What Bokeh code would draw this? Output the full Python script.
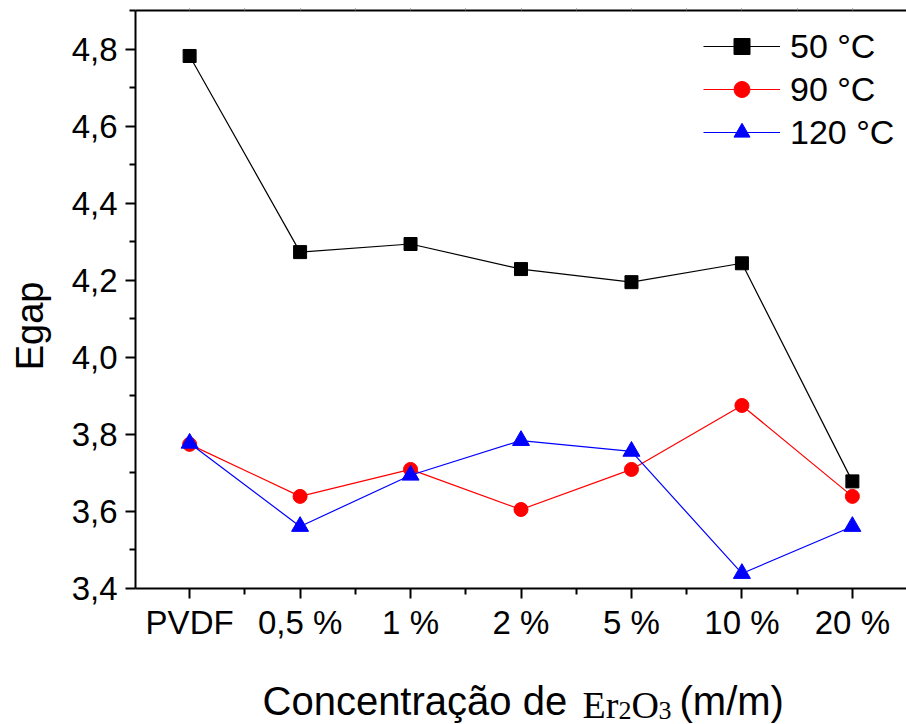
from bokeh.plotting import figure
from bokeh.layouts import column
from bokeh.models import (Range1d, FixedTicker, LinearAxis, CustomJSTickFormatter,
                          Legend, LegendItem)
from bokeh.core.properties import value
from bokeh.embed import file_html
from bokeh.resources import INLINE

categories = ["PVDF", "0,5 %", "1 %", "2 %", "5 %", "10 %", "20 %"]
egap_50 = [4.782, 4.273, 4.294, 4.229, 4.195, 4.244, 3.678]
egap_90 = [3.774, 3.639, 3.709, 3.605, 3.709, 3.875, 3.639]
egap_120 = [3.777, 3.561, 3.694, 3.784, 3.756, 3.439, 3.561]
series_labels = ["50 °C", "90 °C", "120 °C"]
y_ticks = [3.4, 3.6, 3.8, 4.0, 4.2, 4.4, 4.6, 4.8]
y_minor = [3.5, 3.7, 3.9, 4.1, 4.3, 4.5, 4.7, 4.9]
x_title_parts = ["Concentração de", "Er", "2", "O", "3", "(m/m)"]

xs = list(range(len(categories)))
x_minor = [i - 0.5 for i in xs] + [xs[-1] + 0.5]

FONT = "Liberation Sans"
SERIF = "Liberation Serif"

p = figure(width=906, height=644, output_backend="svg", toolbar_location=None,
           x_range=Range1d(-0.49, 6.49), y_range=Range1d(3.4, 4.9),
           min_border_left=135, min_border_right=0, min_border_top=10,
           min_border_bottom=56, x_axis_location="below")
p.grid.visible = False
p.outline_line_color = None
p.background_fill_color = "white"
p.border_fill_color = "white"

# x axis
xa = p.xaxis[0]
xa.ticker = FixedTicker(ticks=xs, minor_ticks=x_minor)
xa.major_label_overrides = {i: c for i, c in enumerate(categories)}
xa.major_label_text_font = FONT
xa.major_label_text_font_size = "33px"
xa.major_label_text_color = "black"
xa.major_label_standoff = 5
xa.axis_line_width = 2
xa.major_tick_line_width = 2
xa.minor_tick_line_width = 2
xa.major_tick_out = 10
xa.major_tick_in = 0
xa.minor_tick_out = 6
xa.minor_tick_in = 0
xa.axis_line_color = "black"
xa.major_tick_line_color = "black"
xa.minor_tick_line_color = "black"

# y axis
ya = p.yaxis[0]
ya.ticker = FixedTicker(ticks=y_ticks, minor_ticks=y_minor)
ya.formatter = CustomJSTickFormatter(code="return tick.toFixed(1).replace('.', ',');")
ya.major_label_text_font = FONT
ya.major_label_text_font_size = "33px"
ya.major_label_text_color = "black"
ya.major_label_standoff = 8
ya.axis_line_width = 2
ya.major_tick_line_width = 2
ya.minor_tick_line_width = 2
ya.major_tick_out = 10
ya.major_tick_in = 0
ya.minor_tick_out = 6
ya.minor_tick_in = 0
ya.axis_line_color = "black"
ya.major_tick_line_color = "black"
ya.minor_tick_line_color = "black"
ya.axis_label = "Egap" + "\u00a0" * 5
ya.axis_label_text_font = FONT
ya.axis_label_text_font_size = "38px"
ya.axis_label_text_font_style = "normal"
ya.axis_label_text_color = "black"
ya.axis_label_standoff = 18

# top axis (frame line)
ta = LinearAxis(ticker=FixedTicker(ticks=xs, minor_ticks=x_minor),
                major_label_text_font_size="0px", axis_line_width=2,
                major_tick_out=2, major_tick_in=0, minor_tick_out=2, minor_tick_in=0,
                major_tick_line_color="#777777", minor_tick_line_color="#777777",
                major_label_standoff=0)
ta.major_label_overrides = {i: "" for i in xs}
p.add_layout(ta, "above")

r50 = p.line(xs, egap_50, line_color="black", line_width=1.2)
m50 = p.scatter(xs, egap_50, marker="square", size=13, fill_color="black", line_color="black")
r90 = p.line(xs, egap_90, line_color="red", line_width=1.2)
m90 = p.scatter(xs, egap_90, marker="circle", size=14, fill_color="red", line_color="red")
r120 = p.line(xs, egap_120, line_color="blue", line_width=1.2)
m120 = p.scatter(xs, egap_120, marker="triangle", size=17, fill_color="blue", line_color="blue")

legend = Legend(items=[LegendItem(label=series_labels[0], renderers=[r50, m50]),
                       LegendItem(label=series_labels[1], renderers=[r90, m90]),
                       LegendItem(label=series_labels[2], renderers=[r120, m120])],
                location=(568, 436), border_line_color=None, background_fill_alpha=0,
                label_text_font=FONT, label_text_font_size="34px",
                label_text_color="black", glyph_width=77, glyph_height=40,
                label_height=40, label_standoff=10, spacing=3, padding=0, margin=0)
p.add_layout(legend, "center")

# x-axis title strip (mixed fonts: Er2O3 in serif with subscripts);
# its frame is aligned with the main plot's frame (135..906), so x is in canvas pixels
t = figure(frame_width=771, frame_height=80, output_backend="svg", toolbar_location=None,
           x_range=Range1d(135, 906), y_range=Range1d(80, 0),
           min_border_left=135, min_border_right=0,
           min_border_top=0, min_border_bottom=0)
t.axis.visible = False
t.grid.visible = False
t.outline_line_color = None
t.border_fill_color = "white"

def put(x, y, s, font, size):
    t.text(x=[x], y=[y], text=[s], text_font=value(font), text_font_size=value(size),
           text_color="black", text_baseline="alphabetic", text_align="left")

put(262, 56, x_title_parts[0], FONT, "40px")
put(582, 60, x_title_parts[1], SERIF, "38px")
put(618, 66, x_title_parts[2], SERIF, "26px")
put(631, 60, x_title_parts[3], SERIF, "38px")
put(658, 66, x_title_parts[4], SERIF, "26px")
put(679, 56, x_title_parts[5], FONT, "40px")

layout = column(p, t, spacing=0)
open("out.html", "w").write(file_html(layout, INLINE))
